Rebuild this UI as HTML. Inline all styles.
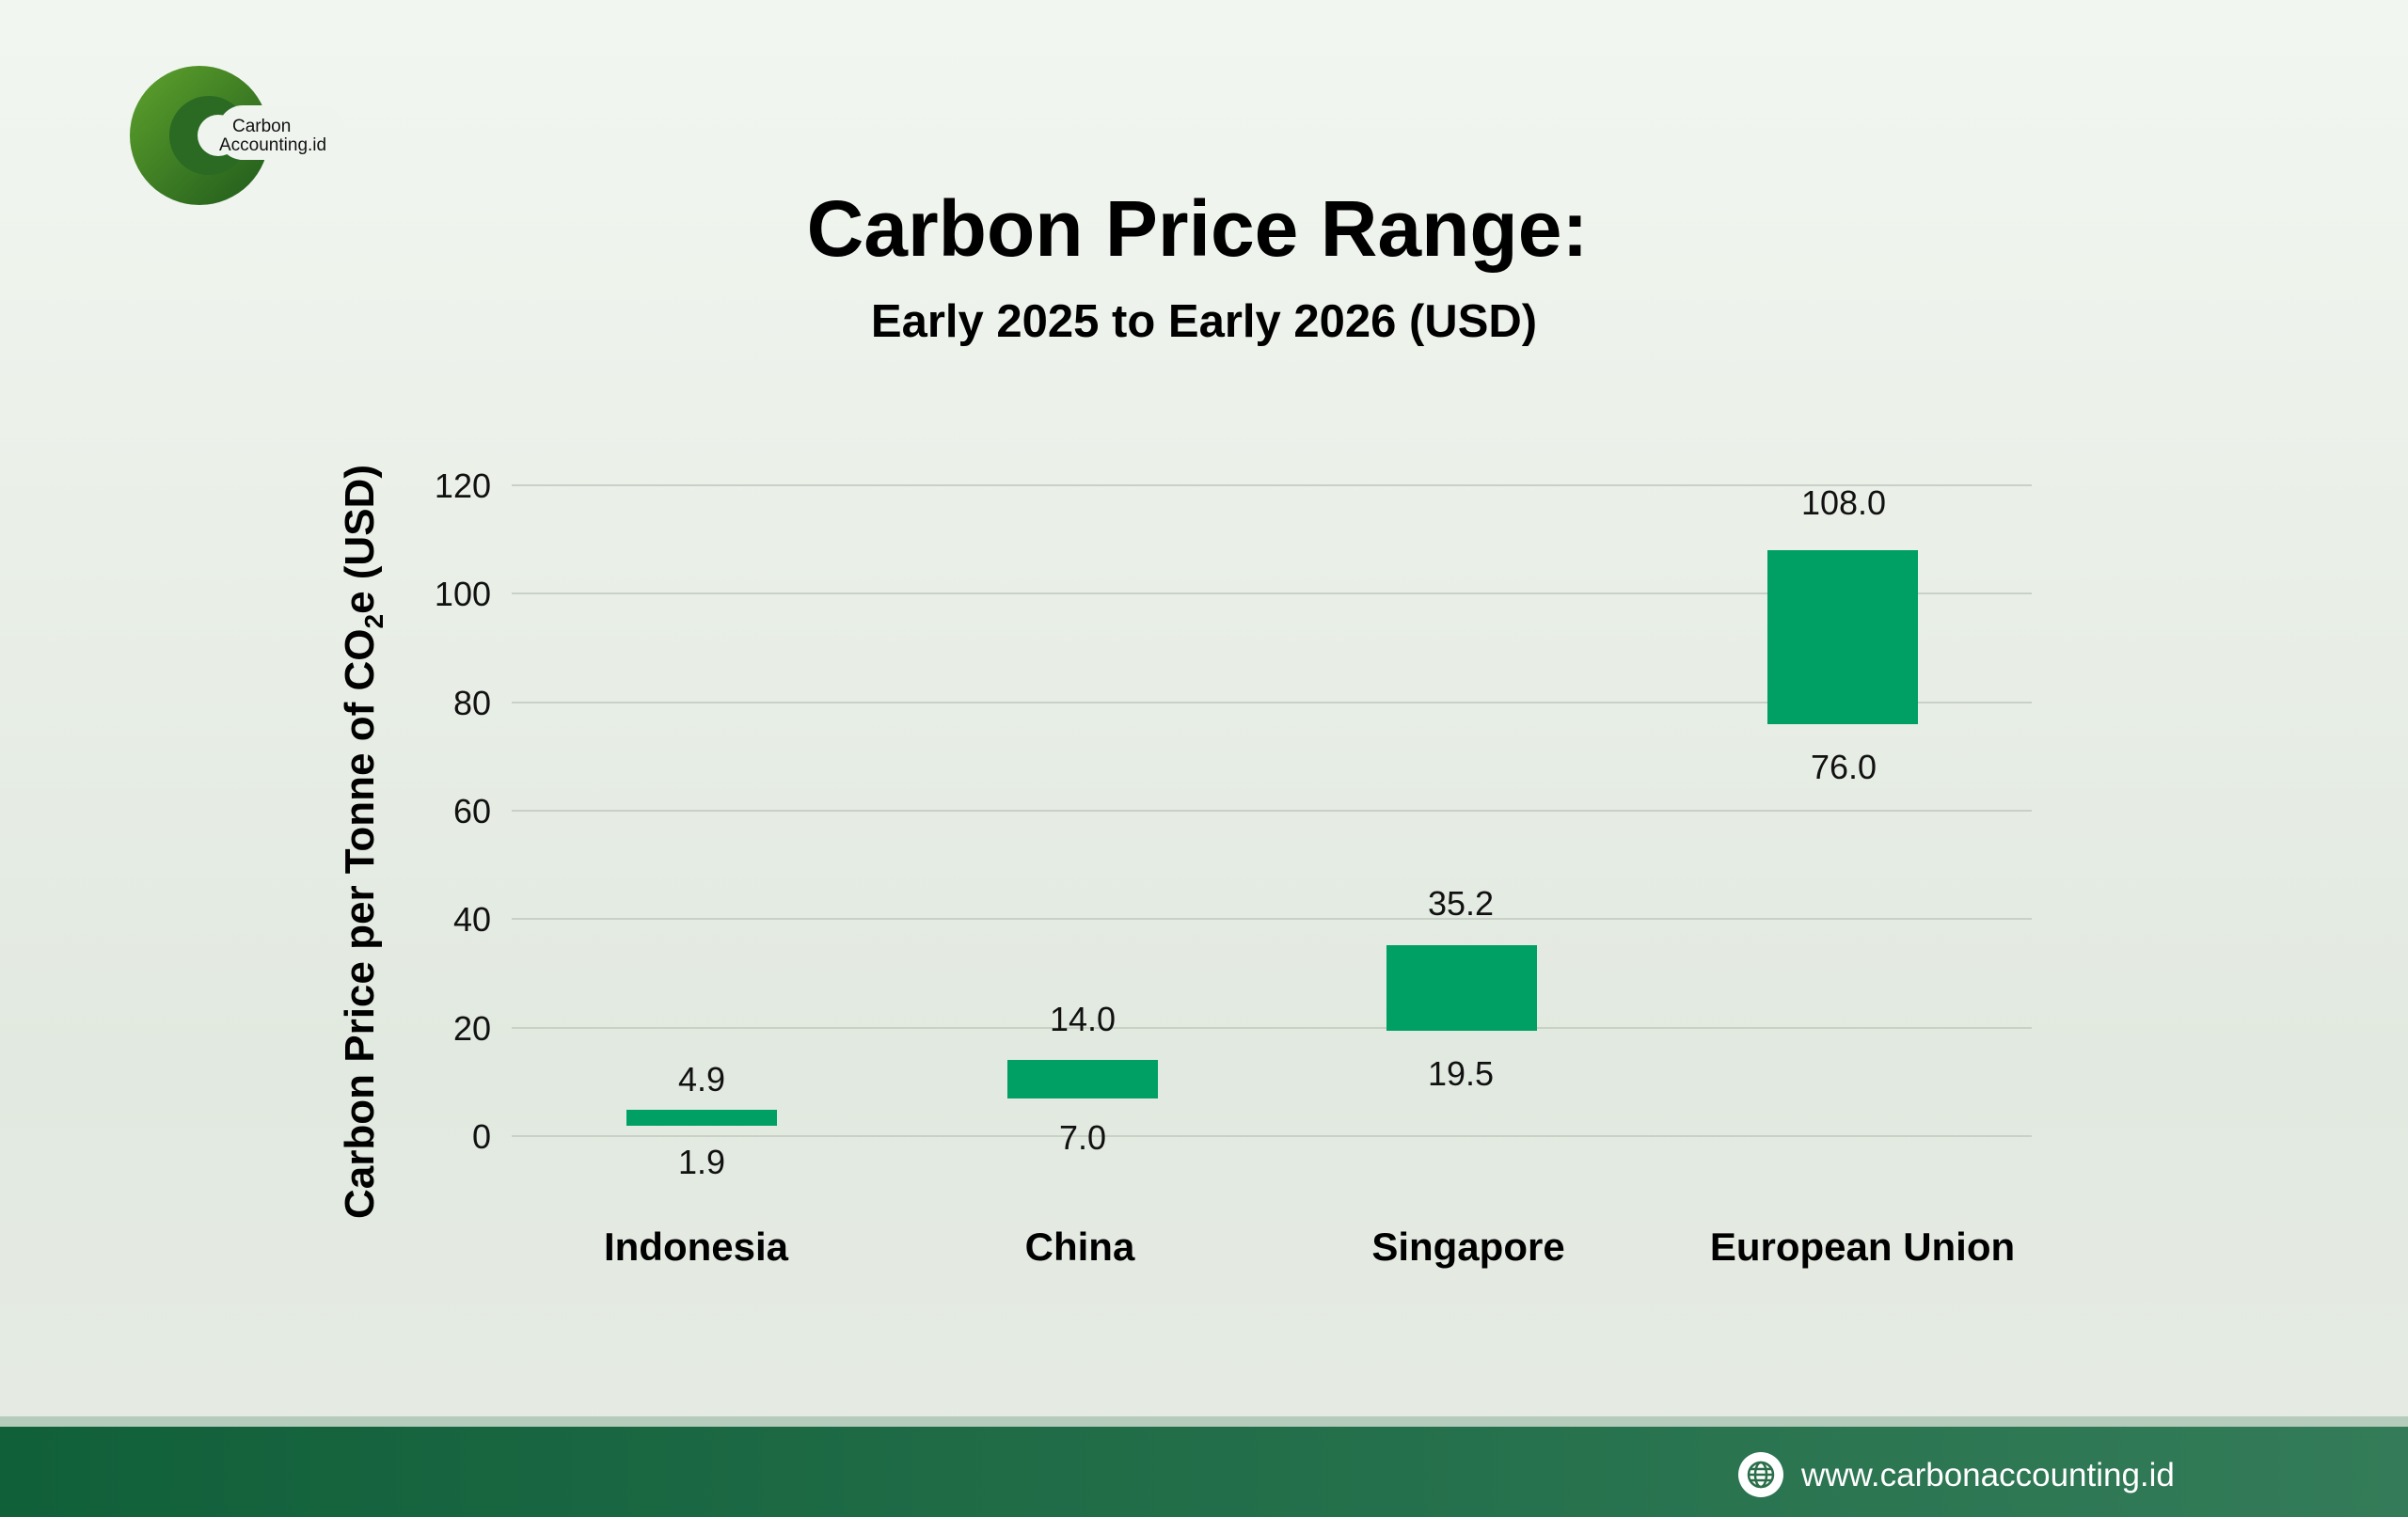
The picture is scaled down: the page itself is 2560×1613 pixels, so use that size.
<!DOCTYPE html>
<html><head><meta charset="utf-8"><style>
html,body{margin:0;padding:0;}
body{width:2560px;height:1613px;overflow:hidden;}
svg{display:block;font-family:"Liberation Sans",sans-serif;}
</style></head><body>
<svg width="2560" height="1613" viewBox="0 0 2560 1613" xmlns="http://www.w3.org/2000/svg">
<defs>
<linearGradient id="bg" x1="0" y1="0" x2="0" y2="1">
<stop offset="0" stop-color="#f2f6f1"/><stop offset="0.35" stop-color="#eaf0e8"/><stop offset="0.7" stop-color="#e2e9e0"/><stop offset="1" stop-color="#e6ece4"/>
</linearGradient>
<linearGradient id="ft" x1="0" y1="0" x2="1" y2="0">
<stop offset="0" stop-color="#10603a"/><stop offset="1" stop-color="#347c59"/>
</linearGradient>
<linearGradient id="lg" x1="0" y1="0" x2="1" y2="1">
<stop offset="0" stop-color="#5fa32c"/><stop offset="1" stop-color="#1f5a1c"/>
</linearGradient>
</defs>
<rect width="2560" height="1613" fill="url(#bg)"/>
<!-- logo -->
<circle cx="212" cy="144" r="74" fill="url(#lg)"/>
<circle cx="222" cy="144" r="42" fill="#2a6a22"/>
<circle cx="232" cy="144" r="22" fill="#f0f4ef"/>
<rect x="232" y="112" width="134" height="58" rx="26" fill="#f0f4ef"/>
<text x="247" y="140" font-size="19" fill="#111">Carbon</text>
<text x="233" y="160" font-size="19" fill="#111">Accounting.id</text>
<!-- titles -->
<text x="1273" y="272" font-size="84" font-weight="bold" text-anchor="middle" fill="#000">Carbon Price Range:</text>
<text x="1280" y="358" font-size="49" font-weight="bold" text-anchor="middle" fill="#000">Early 2025 to Early 2026 (USD)</text>
<!-- grid -->
<g stroke="#c9d1c7" stroke-width="2">
<line x1="544" x2="2160" y1="516" y2="516"/><line x1="544" x2="2160" y1="631" y2="631"/>
<line x1="544" x2="2160" y1="747" y2="747"/><line x1="544" x2="2160" y1="862" y2="862"/>
<line x1="544" x2="2160" y1="977" y2="977"/><line x1="544" x2="2160" y1="1093" y2="1093"/>
<line x1="544" x2="2160" y1="1208" y2="1208"/>
</g>
<g font-size="36" text-anchor="end" fill="#111">
<text x="522" y="529">120</text><text x="522" y="644">100</text><text x="522" y="760">80</text>
<text x="522" y="875">60</text><text x="522" y="990">40</text><text x="522" y="1106">20</text><text x="522" y="1221">0</text>
</g>
<text transform="translate(397,895) rotate(-90)" font-size="44" font-weight="bold" text-anchor="middle" fill="#000">Carbon Price per Tonne of CO<tspan font-size="28" dy="10">2</tspan><tspan dy="-10">e (USD)</tspan></text>
<!-- bars -->
<g fill="#00a064">
<rect x="666" y="1180" width="160" height="17"/>
<rect x="1071" y="1127" width="160" height="41"/>
<rect x="1474" y="1005" width="160" height="91"/>
<rect x="1879" y="585" width="160" height="185"/>
</g>
<g font-size="36" text-anchor="middle" fill="#111">
<text x="746" y="1160">4.9</text><text x="746" y="1248">1.9</text>
<text x="1151" y="1096">14.0</text><text x="1151" y="1222">7.0</text>
<text x="1553" y="973">35.2</text><text x="1553" y="1154">19.5</text>
<text x="1960" y="547">108.0</text><text x="1960" y="828">76.0</text>
</g>
<g font-size="42" font-weight="bold" text-anchor="middle" fill="#000">
<text x="740" y="1340">Indonesia</text><text x="1148" y="1340">China</text>
<text x="1561" y="1340">Singapore</text><text x="1980" y="1340">European Union</text>
</g>
<!-- footer -->
<rect x="0" y="1506" width="2560" height="12" fill="#b5cbbb"/>
<rect x="0" y="1517" width="2560" height="96" fill="url(#ft)"/>
<circle cx="1872" cy="1568" r="24" fill="#fff"/>
<g fill="none" stroke="#2a6f4a" stroke-width="2.5">
<circle cx="1872" cy="1568" r="13"/><ellipse cx="1872" cy="1568" rx="6" ry="13"/>
<line x1="1859" y1="1568" x2="1885" y2="1568"/><line x1="1861" y1="1562" x2="1883" y2="1562"/><line x1="1861" y1="1574" x2="1883" y2="1574"/>
</g>
<text x="1915" y="1580" font-size="35" fill="#fff">www.carbonaccounting.id</text>
</svg>
</body></html>
